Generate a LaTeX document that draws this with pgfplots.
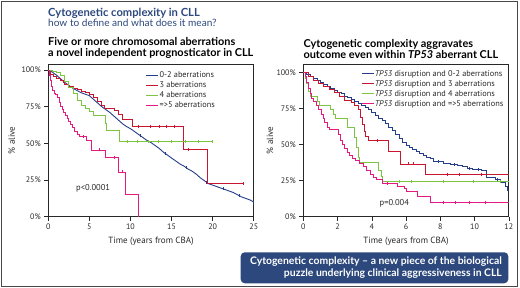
\documentclass[border=0pt]{standalone}
\usepackage{fontspec}
\setmainfont{Lato}
\newfontfamily\ptsans{PT Sans}
\usepackage{pgfplots}
\pgfplotsset{compat=1.18}
\definecolor{cblue}{RGB}{36,62,138}
\definecolor{cred}{RGB}{200,22,48}
\definecolor{cgreen}{RGB}{124,196,66}
\definecolor{cmag}{RGB}{228,26,128}
\definecolor{navy}{RGB}{44,72,124}
\definecolor{axgray}{RGB}{40,40,40}
\pgfplotsset{
  km/.style={
    scale only axis, width=205.5pt, height=152.7pt,
    xmin=0, ymin=0,
    axis line style={axgray, line width=0.8pt},
    tick align=outside, major tick length=4pt,
    tick style={axgray, line width=0.6pt},
    xtick pos=left, ytick pos=left,
    ytick={0,25,50,75,100}, yticklabels={0\%,25\%,50\%,75\%,100\%},
    /pgf/number format/assume math mode=true,
    ticklabel style={font=\ptsans\fontsize{8}{9}\selectfont, text=axgray},
    label style={font=\ptsans\fontsize{9}{10}\selectfont, text=axgray},
    xlabel={Time (years from CBA)},
    ylabel={\% alive},
    legend cell align=left,
    legend style={draw=none, fill=none, inner sep=0pt, row sep=0pt, column sep=0pt,
      nodes={font=\ptsans\fontsize{8.3}{9}\selectfont, inner sep=0.75pt, text height=6.5pt, text depth=2pt, text=axgray}},
    legend image code/.code={\draw[#1, line width=1pt] (0pt,0pt) -- (12pt,0pt);},
    every axis plot/.append style={line width=0.9pt},
    cens/.style={only marks, mark=|, mark size=1.5pt, mark options={line width=0.5pt}, forget plot},
  }
}
\begin{document}
\begin{tikzpicture}
\useasboundingbox (0,0) rectangle (520pt,288pt);
\draw[axgray!85, line width=0.7pt] (1.2pt,2pt) rectangle (517.5pt,287pt);
% titles
\node[anchor=base west, inner sep=0pt, text=navy, font=\bfseries\fontsize{11.2}{12}\selectfont] at (48pt,271pt) {Cytogenetic complexity in CLL};
\node[anchor=base west, inner sep=0pt, text=navy, font=\fontsize{10.1}{12}\selectfont] at (48pt,261pt) {how to define and what does it mean?};
\node[anchor=base west, inner sep=0pt, font=\bfseries\fontsize{10.9}{12}\selectfont] at (48pt,242pt) {Five or more chromosomal aberrations};
\node[anchor=base west, inner sep=0pt, font=\bfseries\fontsize{10.9}{12}\selectfont] at (48pt,231pt) {a novel independent prognosticator in CLL};
\node[anchor=base west, inner sep=0pt, font=\bfseries\fontsize{10.9}{12}\selectfont] at (303.3pt,240.5pt) {Cytogenetic complexity aggravates};
\node[anchor=base west, inner sep=0pt, font=\bfseries\fontsize{10.9}{12}\selectfont] at (303.3pt,229.5pt) {outcome even within \textit{TP53} aberrant CLL};
% bottom box
\fill[navy, rounded corners=4pt] (240.7pt,4.7pt) rectangle (508.3pt,35.7pt);
\node[anchor=base east, inner sep=0pt, text=white, font=\bfseries\fontsize{10.4}{12}\selectfont] at (502pt,23.8pt) {Cytogenetic complexity -- a new piece of the biological};
\node[anchor=base east, inner sep=0pt, text=white, font=\bfseries\fontsize{10.4}{12}\selectfont] at (502pt,11.3pt) {puzzle underlying clinical aggressiveness in CLL};

% ---------- left panel
\begin{axis}[km, at={(48.3pt,71.3pt)}, anchor=south west,
  xmax=25, ymax=104.1, xtick={0,5,10,15,20,25},
  ylabel style={at={(axis description cs:-0.178,0.5)}, anchor=center},
  legend style={at={(axis description cs:0.474,0.958)}, anchor=north west}]
\addplot[cblue, sharp plot] coordinates {
(0,100)(0.5,98.5)(1,96.5)(1.5,94)(2,91.5)(2.5,89.5)(3,87.5)(3.5,86)(4,84.5)(4.5,83.5)
(5,82.5)(5.5,80)(6,77.5)(6.5,75)(7,73)(7.5,71)(8,68.5)(8.5,66)(9,63.5)(9.5,61.5)
(10,60)(10.5,58)(11,56)(11.5,54)(12,52)(12.5,50.5)(13,48.5)(13.5,46.5)(14,44)(14.5,42)
(15,40)(15.5,38)(16,36)(16.5,34.5)(17,32.5)(17.5,31)(18,29)(18.5,26.5)(19,24.5)(19.5,22.5)
(20,21.5)(20.5,20.5)(21,19.5)(21.5,18.5)(22,17.5)(22.5,16.5)(23,15)(23.5,13.5)(24,12.5)(24.5,11.5)
(25,10)(25,8)};
\addlegendentry{0-2 aberrations}
\addplot[cred, const plot] coordinates {
(0,100)(0.3,97)(0.6,95.5)(1.0,94.5)(1.5,93)(1.8,91.5)(2.0,90)(2.5,88.5)(3.0,87.5)(3.5,86.5)
(4.0,85.5)(4.5,84.5)(5.0,83)(5.5,81)(6.0,78.5)(6.5,76)(6.8,74)(7.5,73.5)(8.0,72.5)(8.5,70)
(9.0,66)(10.2,61.5)(16.5,46)(19.4,22.7)(23.7,22.7)};
\addlegendentry{3 aberrations}
\addplot[cgreen, const plot] coordinates {
(0,100)(0.5,99)(1.0,98)(1.5,96)(2.0,92)(2.5,88)(3.0,84)(3.5,79)(4.0,76)(4.5,74)
(5.0,71.5)(5.5,69)(6.9,63.5)(7.1,58.5)(8.7,51)(19.9,51)};
\addlegendentry{4 aberrations}
\addplot[cmag, const plot] coordinates {
(0,100)(0.15,96)(0.25,93)(0.4,89)(0.55,86)(0.7,84)(0.9,83)(1.1,81)(1.3,78)(1.5,75)
(1.7,73)(1.9,71)(2.1,69)(2.3,67)(2.5,65)(2.7,63)(2.9,61)(3.2,58)(3.5,56)(3.8,54.5)
(4.1,54.5)(4.6,52)(5.3,45.5)(6.9,40.5)(8.5,30.5)(9.4,15)(11.0,0)};
\addlegendentry{=>5 aberrations}
\addplot[cgreen, cens] coordinates {(9.6,51)(10.8,51)(12.2,51)(13.4,51)(15.0,51)(16.6,51)(18.2,51)(19.9,51)};
\addplot[cred, cens] coordinates {(11.0,61.5)(12.4,61.5)(13.5,61.5)(14.4,61.5)(15.3,61.5)(17.0,46)(23.7,22.7)};
\addplot[cmag, cens] coordinates {(4.3,54.5)(6.2,45.5)(8.0,40.5)(9.0,30.5)};
\addplot[cblue, cens] coordinates {(11.2,55.5)(14.2,43)(16.8,33.5)(19.2,23.5)(21.3,19)(23.2,14.5)};
\node[anchor=west, inner sep=0pt, font=\ptsans\fontsize{8.5}{9}\selectfont, text=axgray] at (axis cs:3.37,19.4) {p<0.0001};
\end{axis}

% ---------- right panel
\begin{axis}[km, at={(303.3pt,71.3pt)}, anchor=south west,
  xmax=12, ymax=105.7, xtick={0,2,4,6,8,10,12},
  ylabel style={at={(axis description cs:-0.162,0.5)}, anchor=center},
  legend style={at={(axis description cs:0.28,0.969)}, anchor=north west}]
\addplot[cblue, const plot] coordinates {
(0,100)(0.2,98.5)(0.4,97)(0.6,95.5)(0.8,94)(1.0,93)(1.2,91.5)(1.4,90)(1.6,88.5)(1.8,87.5)
(2.0,86)(2.2,85)(2.4,83.5)(2.6,82.5)(2.8,81)(3.0,80)(3.2,78.5)(3.4,77)(3.6,75.5)(3.8,74)
(4.0,72)(4.2,70)(4.4,68)(4.6,66.5)(4.8,64.5)(5.0,62)(5.2,59.5)(5.4,57)(5.6,54)(5.8,51.5)
(6.0,49.5)(6.2,48)(6.4,46.5)(6.6,45)(6.8,44)(7.0,42.5)(7.2,41)(7.4,40)(7.6,38.5)(7.8,38)
(8.2,37)(8.6,36)(9.0,35.5)(9.3,34.5)(9.6,33.5)(9.9,33)(10.4,32)(10.7,27)(11.2,25.5)(11.5,23.5)
(11.8,21)(11.9,18.5)(12,18.5)};
\addlegendentry{\textit{TP53} disruption and 0-2 aberrations}
\addplot[cred, const plot] coordinates {
(0,100)(0.3,97)(0.6,94)(0.9,92)(1.2,90)(1.5,88)(1.8,86)(2.1,83)(2.4,80.5)(2.8,79)
(3.0,77)(3.2,74)(3.35,69)(3.45,64)(3.55,59)(3.65,55.5)(3.8,52.5)(4.95,45)(5.7,36.5)(7.15,29.5)
(12,29.5)};
\addlegendentry{\textit{TP53} disruption and 3 aberrations}
\addplot[cgreen, const plot] coordinates {
(0,100)(0.1,96)(0.2,92)(0.3,87)(0.4,83)(0.85,80)(0.95,77)(1.6,74)(1.75,71)(1.9,68)
(2.6,62)(3.0,55)(3.1,48)(3.2,41)(3.3,37.5)(4.4,32)(4.55,28)(4.65,24.5)(12,24.5)};
\addlegendentry{\textit{TP53} disruption and 4 aberrations}
\addplot[cmag, const plot] coordinates {
(0,100)(0.1,97)(0.2,93)(0.3,89)(0.4,85)(0.5,82)(0.6,79.5)(0.75,77)(0.9,74.5)(1.05,71)
(1.15,68)(1.25,65)(1.4,62)(1.5,60.5)(2.05,57)(2.15,53)(2.3,50)(2.4,47)(2.55,44.5)(2.7,42.5)
(2.85,40.5)(3.05,39)(3.3,37)(3.5,34.5)(3.7,32)(3.9,29.5)(4.1,27.5)(4.3,25.5)(4.6,23.3)(5.5,21)
(5.9,19.6)(6.0,17.3)(6.65,13.8)(7.4,10)(12,10)};
\addlegendentry{\textit{TP53} disruption and =>5 aberrations}
\addplot[cgreen, cens] coordinates {(5.6,24.5)(6.3,24.5)(8.2,24.5)(9.9,24.5)(11.5,24.5)};
\addplot[cred, cens] coordinates {(6.1,36.5)(6.4,36.5)(8.4,29.5)(9.1,29.5)(10.4,29.5)(4.3,52.5)};
\addplot[cmag, cens] coordinates {(4.9,23.3)(8.2,10)(8.9,10)(9.7,10)(10.6,10)};
\addplot[cblue, cens] coordinates {(7.9,38)(8.8,36)(9.7,33.5)(10.2,33)(11.3,25.5)};
\node[anchor=west, inner sep=0pt, font=\ptsans\fontsize{8.5}{9}\selectfont, text=axgray] at (axis cs:4.45,9.3) {p=0.004};
\end{axis}
\end{tikzpicture}
\end{document}
